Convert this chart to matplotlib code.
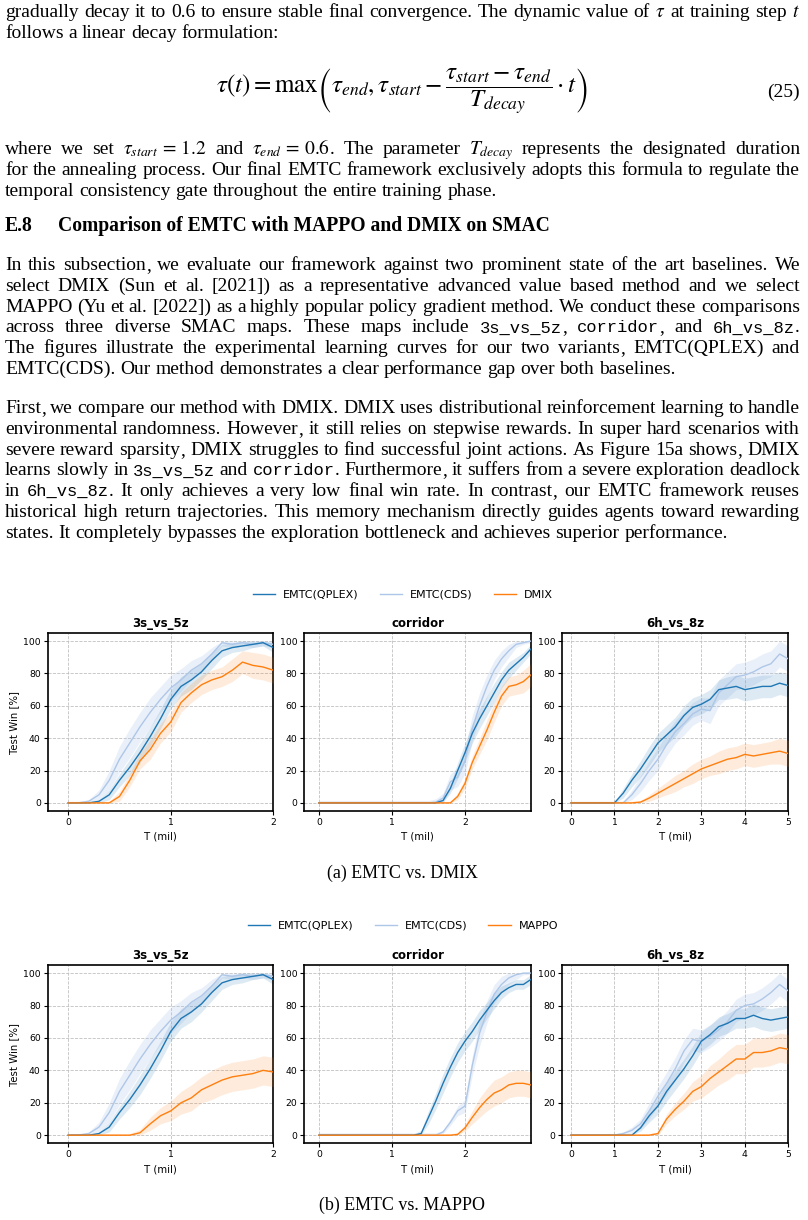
import numpy as np
import matplotlib
matplotlib.use("Agg")
import matplotlib.pyplot as plt
from matplotlib.lines import Line2D

plt.rcParams['mathtext.fontset'] = 'stix'

# ---------------------------------------------------------------- data
T_3S = [0.0, 0.1, 0.2, 0.3, 0.4, 0.5, 0.6, 0.7, 0.8, 0.9, 1.0,
        1.1, 1.2, 1.3, 1.4, 1.5, 1.6, 1.7, 1.8, 1.9, 2.0]
T_CO = [0.0, 0.1, 0.2, 0.3, 0.4, 0.5, 0.6, 0.7, 0.8, 0.9, 1.0, 1.1, 1.2, 1.3, 1.4,
        1.5, 1.6, 1.7, 1.8, 1.9, 2.0, 2.1, 2.2, 2.3, 2.4, 2.5, 2.6, 2.7, 2.8, 2.9]
T_6H = [0.0, 0.2, 0.4, 0.6, 0.8, 1.0, 1.2, 1.4, 1.6, 1.8, 2.0, 2.2, 2.4,
        2.6, 2.8, 3.0, 3.2, 3.4, 3.6, 3.8, 4.0, 4.2, 4.4, 4.6, 4.8, 5.0]

# 3s_vs_5z
QPLEX_3S = [0, 0, 0, 1, 5, 14, 22, 31, 41, 52, 64, 72, 76, 81, 88, 94, 96, 97, 98, 99, 96]
QPLEX_3S_SD = [0, 0, 0, 1, 3, 4, 5, 6, 6, 6, 6, 6, 6, 5, 5, 4, 3, 3, 2, 2, 3]
CDS_3S = [0, 0, 1, 5, 14, 27, 37, 47, 56, 64, 71, 76, 82, 86, 92, 99, 98, 99, 98, 99, 98]
CDS_3S_SD = [0, 1, 1, 3, 6, 8, 9, 9, 9, 8, 8, 7, 6, 5, 4, 2, 2, 2, 2, 2, 2]
DMIX_3S = [0, 0, 0, 0, 0, 4, 14, 26, 33, 43, 50, 62, 68, 73, 76, 78, 82, 87, 85, 84, 82]
DMIX_3S_SD = [1, 1, 1, 1, 1, 3, 4, 5, 6, 6, 6, 6, 6, 6, 6, 6, 7, 7, 8, 8, 8]
MAPPO_3S = [0, 0, 0, 0, 0, 0, 0, 1.5, 7, 12, 15, 20, 23, 28, 31, 34, 36, 37, 38, 40, 39]
MAPPO_3S_SD = [1, 1, 1, 1, 1, 1, 1, 2, 4, 5, 6, 7, 8, 8, 9, 9, 9, 9, 9, 9, 9]

# corridor (DMIX figure)
QPLEX_CO_A = [0] * 17 + [1.5, 9, 20, 31, 43, 52, 60, 68, 76, 82, 86, 90, 95]
QPLEX_CO_A_SD = [0.5] * 17 + [1, 3, 5, 6, 6, 6, 6, 6, 5, 5, 4, 3, 3]
CDS_CO_A = [0] * 16 + [0.5, 3, 13, 16, 26, 46, 60, 72, 82, 89, 94, 98, 99, 100]
CDS_CO_A_SD = [1.5] * 16 + [2, 3, 5, 6, 8, 8, 8, 7, 6, 5, 4, 2, 1, 1]
DMIX_CO = [0] * 19 + [4, 12, 25, 35, 45, 56, 66, 72, 73, 75, 79]
DMIX_CO_SD = [1] * 19 + [2, 3, 4, 5, 6, 6, 6, 6, 6, 7, 7]
# corridor (MAPPO figure)
QPLEX_CO_B = [0] * 14 + [1, 11, 21, 32, 42, 51, 58, 64, 71, 77, 83, 88, 91, 93, 93, 96]
QPLEX_CO_B_SD = [1] * 14 + [2, 4, 5, 6, 6, 6, 6, 6, 6, 5, 5, 4, 3, 3, 3, 3]
CDS_CO_B = [0] * 17 + [2, 8, 15, 18, 43, 63, 76, 87, 93, 97, 99, 100, 100]
CDS_CO_B_SD = [1.5] * 17 + [1, 2, 3, 4, 6, 8, 7, 6, 5, 4, 3, 1, 1]
MAPPO_CO = [0] * 19 + [0.5, 4.5, 11, 17, 22, 26, 28, 31, 32, 32, 31]
MAPPO_CO_SD = [1] * 19 + [1, 2, 4, 6, 7, 8, 8, 8, 8, 8, 8]

# 6h_vs_8z (DMIX figure)
QPLEX_6H_A = [0] * 6 + [6, 14, 21, 29, 37, 42, 47, 54, 59, 61, 64, 70, 71, 72, 70, 71, 72, 72, 74, 72.5]
QPLEX_6H_A_SD = [0.5] * 6 + [3, 4, 5, 6, 6, 6, 6, 6, 6, 6, 6, 6, 7, 7, 7, 7, 7, 7, 7, 7]
CDS_6H_A = [0] * 7 + [5, 12, 20, 27, 36, 44, 49, 55, 58, 57, 68, 73, 78, 79, 81, 84, 86, 92, 89]
CDS_6H_A_SD = [1] * 7 + [3, 5, 6, 7, 7, 7, 7, 7, 7, 8, 8, 8, 8, 8, 8, 8, 8, 8, 8]
DMIX_6H = [0] * 8 + [0.5, 3, 6, 9, 12, 15, 18, 21, 23, 25, 27, 28, 30, 29, 30, 31, 32, 30.5]
DMIX_6H_SD = [1] * 8 + [1, 2, 3, 4, 5, 5, 6, 6, 6, 7, 7, 7, 7, 7, 7, 7, 8, 8]
# 6h_vs_8z (MAPPO figure)
QPLEX_6H_B = [0] * 8 + [4.5, 12, 18, 27, 34, 41, 49, 58, 62, 67, 69, 72, 72, 74, 72, 71, 72, 73]
QPLEX_6H_B_SD = [0.5] * 8 + [2, 4, 5, 6, 6, 6, 6, 6, 6, 6, 6, 6, 6, 7, 7, 7, 7, 7]
CDS_6H_B = [0] * 6 + [1, 3, 7, 15, 24, 32, 41, 52, 59, 58, 61, 65, 70, 77, 80, 81, 84, 88, 93, 89]
CDS_6H_B_SD = [1] * 6 + [1, 2, 3, 5, 6, 7, 7, 7, 7, 7, 7, 7, 7, 7, 7, 7, 7, 7, 7, 7]
MAPPO_6H = [0] * 10 + [1, 10, 16, 21, 27, 30, 35, 39, 43, 47, 47, 51, 51, 52, 54, 53]
MAPPO_6H_SD = [1] * 10 + [1, 3, 4, 5, 6, 7, 8, 8, 9, 9, 9, 9, 9, 9, 9, 9]

MAP_NAMES = ["3s_vs_5z", "corridor", "6h_vs_8z"]
XLIMS_RIGHT = [2.0, 2.9, 5.0]
XTICKS = [[0, 1, 2], [0, 1, 2], [0, 1, 2, 3, 4, 5]]
YTICKS = [0, 20, 40, 60, 80, 100]
LEGEND_A = ["EMTC(QPLEX)", "EMTC(CDS)", "DMIX"]
LEGEND_B = ["EMTC(QPLEX)", "EMTC(CDS)", "MAPPO"]
CAPTIONS = ["(a) EMTC vs. DMIX", "(b) EMTC vs. MAPPO"]

# ---------------------------------------------------------------- page text
PARA0 = [
    "gradually decay it to 0.6 to ensure stable final convergence. The dynamic value of $\\tau$ at training step $t$",
    "follows a linear decay formulation:",
]
EQUATION = r"$\tau(t) = \max\left(\tau_{end}, \tau_{start} - \dfrac{\tau_{start} - \tau_{end}}{T_{decay}} \cdot t\right)$"
EQ_NUM = "(25)"
PARA1 = [
    "where we set $\\tau_{start}\\,=\\,1.2$ and $\\tau_{end}\\,=\\,0.6$. The parameter $T_{decay}$ represents the designated duration",
    "for the annealing process. Our final EMTC framework exclusively adopts this formula to regulate the",
    "temporal consistency gate throughout the entire training phase.",
]
HEAD_NUM = "E.8"
HEAD = "Comparison of EMTC with MAPPO and DMIX on SMAC"
PARA2 = [
    "In this subsection, we evaluate our framework against two prominent state of the art baselines. We",
    "select DMIX (Sun et al. [2021]) as a representative advanced value based method and we select",
    "MAPPO (Yu et al. [2022]) as a highly popular policy gradient method. We conduct these comparisons",
    "across three diverse SMAC maps.  These maps include `3s_vs_5z`, `corridor`, and `6h_vs_8z`.",
    "The figures illustrate the experimental learning curves for our two variants, EMTC(QPLEX) and",
    "EMTC(CDS). Our method demonstrates a clear performance gap over both baselines.",
]
PARA3 = [
    "First, we compare our method with DMIX. DMIX uses distributional reinforcement learning to handle",
    "environmental randomness. However, it still relies on stepwise rewards. In super hard scenarios with",
    "severe reward sparsity, DMIX struggles to find successful joint actions. As Figure 15a shows, DMIX",
    "learns slowly in `3s_vs_5z` and `corridor`. Furthermore, it suffers from a severe exploration deadlock",
    "in `6h_vs_8z`. It only achieves a very low final win rate. In contrast, our EMTC framework reuses",
    "historical high return trajectories. This memory mechanism directly guides agents toward rewarding",
    "states. It completely bypasses the exploration bottleneck and achieves superior performance.",
]

# ---------------------------------------------------------------- figure
W, H = 808, 1220
fig = plt.figure(figsize=(W / 100, H / 100), dpi=100)
renderer = fig.canvas.get_renderer()
SERIF = ['Liberation Serif', 'DejaVu Serif']
MONO = ['Liberation Mono', 'DejaVu Sans Mono']


def fx(px):
    return px / W


def fy(py):
    return 1 - py / H


def text_width(s, family, size, weight='normal'):
    t = fig.text(0, 0, s, family=family, fontsize=size, weight=weight)
    w = t.get_window_extent(renderer).width
    t.remove()
    return w


def fit(s, family, target, weight='normal'):
    return 10.0 * target / text_width(s, family, 10.0, weight)


FS = 14.0
MS = 12.3
LEFT, RIGHT = 5, 800


def parse(line):
    tokens, cur, inm = [], "", False
    for ch in line:
        if ch == '$':
            inm = not inm
        if ch == ' ' and not inm:
            if cur:
                tokens.append(cur)
            cur = ""
        else:
            cur += ch
    if cur:
        tokens.append(cur)
    words = []
    for tok in tokens:
        runs, buf, mode = [], "", 'rm'
        for ch in tok:
            if ch == '$':
                if mode == 'math':
                    runs.append(('$' + buf + '$', 'math'))
                    buf, mode = "", 'rm'
                else:
                    if buf:
                        runs.append((buf, 'rm'))
                    buf, mode = "", 'math'
            elif ch == '`':
                if mode == 'tt':
                    runs.append((buf, 'tt'))
                    buf, mode = "", 'rm'
                else:
                    if buf:
                        runs.append((buf, 'rm'))
                    buf, mode = "", 'tt'
            else:
                buf += ch
        if buf:
            runs.append((buf, mode))
        # keep trailing commas as their own run (keeps the baseline steady)
        if runs and runs[-1][1] == 'rm' and len(runs[-1][0]) > 1 and runs[-1][0].endswith(','):
            s0 = runs[-1][0]
            runs[-1] = (s0[:-1], 'rm')
            runs.append((',', 'rm'))
        words.append(runs)
    return words


SPACE = text_width("a a", SERIF, FS) - text_width("aa", SERIF, FS)


def place_line(line, y, justify=True):
    words = parse(line)
    objs, total = [], 0.0
    for runs in words:
        items = []
        for s, kind in runs:
            fam = MONO if kind == 'tt' else SERIF
            size = MS if kind == 'tt' else FS
            t = fig.text(0, fy(y), s, family=fam, fontsize=size, va='baseline', ha='left')
            w = t.get_window_extent(renderer).width
            items.append((t, w))
            total += w
        objs.append(items)
    n = len(objs)
    gap = (RIGHT - LEFT - total) / (n - 1) if (justify and n > 1) else SPACE
    x = LEFT
    for items in objs:
        for t, w in items:
            t.set_x(fx(x))
            x += w
        x += gap


def place_para(lines, y0, dy=20.8):
    for i, line in enumerate(lines):
        place_line(line, y0 + i * dy, justify=(i < len(lines) - 1))


place_para(PARA0, 17)
EQS = 10.0 * 373 / text_width(EQUATION, SERIF, 10.0)
fig.text(fx(402), fy(92), EQUATION, family=SERIF, fontsize=EQS, ha='center', va='center')
fig.text(fx(RIGHT), fy(92), EQ_NUM, family=SERIF, fontsize=FS, ha='right', va='center')
place_para(PARA1, 154)
HS = fit(HEAD, SERIF, 493, weight='bold')
fig.text(fx(LEFT), fy(231), HEAD_NUM, family=SERIF, fontsize=HS, weight='bold', va='baseline')
fig.text(fx(58), fy(231), HEAD, family=SERIF, fontsize=HS, weight='bold', va='baseline')
place_para(PARA2, 270)
place_para(PARA3, 413)

# ---------------------------------------------------------------- charts
C_Q, C_C, C_B = '#1f77b4', '#aec7e8', '#ff7f0e'
COLS = [(47.7, 273.3), (304.3, 530.7), (562.3, 788.3)]
ROWS = [(633, 811), (965, 1143.3)]
LEG_Y = [595, 926]
CAP_Y = [878, 1210]
CS = fit(CAPTIONS[0], SERIF, 151)

FIG_DATA = [
    [(T_3S, QPLEX_3S, QPLEX_3S_SD, CDS_3S, CDS_3S_SD, DMIX_3S, DMIX_3S_SD),
     (T_CO, QPLEX_CO_A, QPLEX_CO_A_SD, CDS_CO_A, CDS_CO_A_SD, DMIX_CO, DMIX_CO_SD),
     (T_6H, QPLEX_6H_A, QPLEX_6H_A_SD, CDS_6H_A, CDS_6H_A_SD, DMIX_6H, DMIX_6H_SD)],
    [(T_3S, QPLEX_3S, QPLEX_3S_SD, CDS_3S, CDS_3S_SD, MAPPO_3S, MAPPO_3S_SD),
     (T_CO, QPLEX_CO_B, QPLEX_CO_B_SD, CDS_CO_B, CDS_CO_B_SD, MAPPO_CO, MAPPO_CO_SD),
     (T_6H, QPLEX_6H_B, QPLEX_6H_B_SD, CDS_6H_B, CDS_6H_B_SD, MAPPO_6H, MAPPO_6H_SD)],
]
LEGENDS = [LEGEND_A, LEGEND_B]

for r, (top, bot) in enumerate(ROWS):
    for c, (l, rr) in enumerate(COLS):
        ax = fig.add_axes([fx(l), fy(bot), (rr - l) / W, (bot - top) / H])
        x, q, qs, cd, cds, b, bs = FIG_DATA[r][c]
        x = np.array(x)
        for y, sd, col, a, z in [(cd, cds, C_C, 0.25, 2), (q, qs, C_Q, 0.15, 3), (b, bs, C_B, 0.15, 4)]:
            y = np.array(y, float)
            sd = np.array(sd, float)
            ax.fill_between(x, np.clip(y - sd, 0, 100), np.clip(y + sd, 0, 100), color=col,
                            alpha=a, linewidth=0, zorder=z - 1)
            ax.plot(x, y, color=col, linewidth=1.0, zorder=z + 3)
        ax.set_xlim(-0.2, XLIMS_RIGHT[c])
        ax.set_ylim(-5, 105)
        ax.set_xticks(XTICKS[c])
        ax.set_yticks(YTICKS)
        ax.grid(True, linestyle='--', linewidth=0.6, color='#c0c0c0')
        ax.set_axisbelow(True)
        ax.tick_params(labelsize=6.7, length=3, width=0.8, pad=2)
        for sp in ax.spines.values():
            sp.set_linewidth(1.2)
        ax.set_title(MAP_NAMES[c], fontsize=8.5, fontweight='bold', pad=4)
        ax.set_xlabel("T (mil)", fontsize=7.3, labelpad=3.5)
        if c == 0:
            ax.set_ylabel("Test Win [%]", fontsize=7.3, labelpad=3)
    handles = [Line2D([], [], color=C_Q, linewidth=1.0),
               Line2D([], [], color=C_C, linewidth=1.0),
               Line2D([], [], color=C_B, linewidth=1.0)]
    fig.legend(handles, LEGENDS[r], loc='center', bbox_to_anchor=(fx(403), fy(LEG_Y[r])),
               ncol=3, frameon=False, fontsize=8, handlelength=2.0, columnspacing=1.9,
               handletextpad=0.7)
    fig.text(fx(402), fy(CAP_Y[r]), CAPTIONS[r], family=SERIF, fontsize=CS, ha='center',
             va='baseline')

fig.savefig("out.png", dpi=100)
